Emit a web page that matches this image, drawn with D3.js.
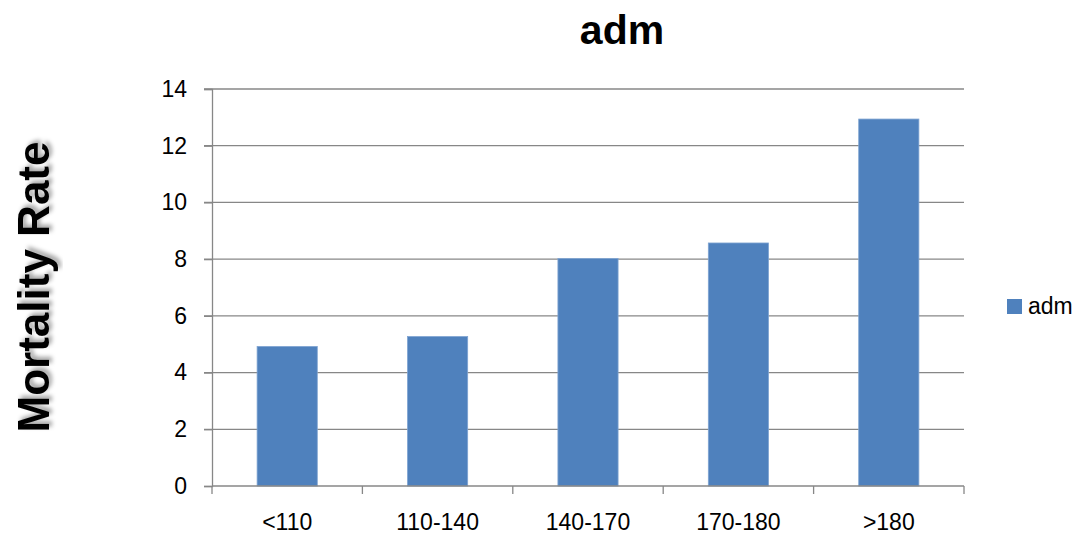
<!DOCTYPE html>
<html>
<head>
<meta charset="utf-8">
<script src="https://cdn.jsdelivr.net/npm/d3@7"></script>
<style>
  html, body { margin: 0; padding: 0; background: #fff; }
  svg { display: block; font-family: "Liberation Sans", Arial, sans-serif; }
</style>
</head>
<body>
<svg id="chart" width="1078" height="534"></svg>
<script>
// Mortality rate by range, single series "adm"
const categories = ["<110", "110-140", "140-170", "170-180", ">180"];
const admValues = [4.92, 5.27, 8.02, 8.57, 12.94];
const yTicks = [0, 2, 4, 6, 8, 10, 12, 14];
const seriesName = "adm";

const svg = d3.select("#chart");
const plot = { left: 212, right: 964, top: 89, bottom: 486 };
const gridColor = "#878787";
const barColor = "#4f81bd";

const x = d3.scaleBand().domain(categories).range([plot.left, plot.right]).paddingInner(0).paddingOuter(0);
const y = d3.scaleLinear().domain([0, 14]).range([plot.bottom, plot.top]);

// shadow for the vertical axis title
const defs = svg.append("defs");
const f = defs.append("filter").attr("id", "shadow").attr("x", "-30%").attr("y", "-10%").attr("width", "160%").attr("height", "120%");
f.append("feDropShadow").attr("dx", 3).attr("dy", 3).attr("stdDeviation", 2).attr("flood-color", "#000").attr("flood-opacity", 0.35);

// horizontal gridlines (extend left to form tick marks)
svg.append("g").selectAll("line").data(yTicks.filter(d => d !== 0)).join("line")
  .attr("x1", plot.left - 8).attr("x2", plot.right)
  .attr("y1", d => y(d)).attr("y2", d => y(d))
  .attr("stroke", gridColor).attr("stroke-width", 1.3);

// y axis
const yAxis = svg.append("g").attr("transform", `translate(${plot.left},0)`)
  .call(d3.axisLeft(y).tickValues(yTicks).tickSize(8).tickPadding(17));
yAxis.select(".domain").attr("stroke", gridColor).attr("stroke-width", 1.3);
yAxis.selectAll(".tick line").attr("stroke", gridColor).attr("stroke-width", 1.3);
yAxis.selectAll(".tick text").attr("font-size", 23).attr("fill", "#000").attr("font-family", "Liberation Sans, Arial, sans-serif");

// bars
const barW = x.bandwidth() * 0.4;
svg.append("g").selectAll("rect").data(admValues).join("rect")
  .attr("x", (d, i) => x(categories[i]) + (x.bandwidth() - barW) / 2)
  .attr("width", barW)
  .attr("y", d => y(d))
  .attr("height", d => y(0) - y(d))
  .attr("fill", barColor)
  .attr("stroke", "#7ea3d1").attr("stroke-width", 0.8);

// x axis with boundary ticks between categories
const xAxisG = svg.append("g");
xAxisG.append("line")
  .attr("x1", plot.left).attr("x2", plot.right)
  .attr("y1", plot.bottom).attr("y2", plot.bottom)
  .attr("stroke", gridColor).attr("stroke-width", 1.3);
const boundaries = categories.map(c => x(c)).concat([x(categories[categories.length - 1]) + x.bandwidth()]);
xAxisG.selectAll("line.tk").data(boundaries).join("line").attr("class", "tk")
  .attr("x1", d => d).attr("x2", d => d)
  .attr("y1", plot.bottom).attr("y2", plot.bottom + 8)
  .attr("stroke", gridColor).attr("stroke-width", 1.3);
xAxisG.selectAll("text").data(categories).join("text")
  .attr("x", d => x(d) + x.bandwidth() / 2)
  .attr("y", 530)
  .attr("text-anchor", "middle")
  .attr("font-size", 23)
  .attr("fill", "#000")
  .text(d => d);

// chart title
svg.append("text")
  .attr("x", 622).attr("y", 44)
  .attr("text-anchor", "middle")
  .attr("font-size", 41).attr("font-weight", "bold")
  .text(seriesName);

// vertical axis title
svg.append("text")
  .attr("transform", "translate(49,287) rotate(-90)")
  .attr("text-anchor", "middle")
  .attr("font-size", 44).attr("font-weight", "bold")
  .attr("filter", "url(#shadow)")
  .text("Mortality Rate");

// legend
const lg = svg.append("g").attr("transform", "translate(1007,299)");
lg.append("rect").attr("width", 15).attr("height", 15).attr("fill", barColor);
lg.append("text").attr("x", 21).attr("y", 15).attr("font-size", 23).text(seriesName);
</script>
</body>
</html>
